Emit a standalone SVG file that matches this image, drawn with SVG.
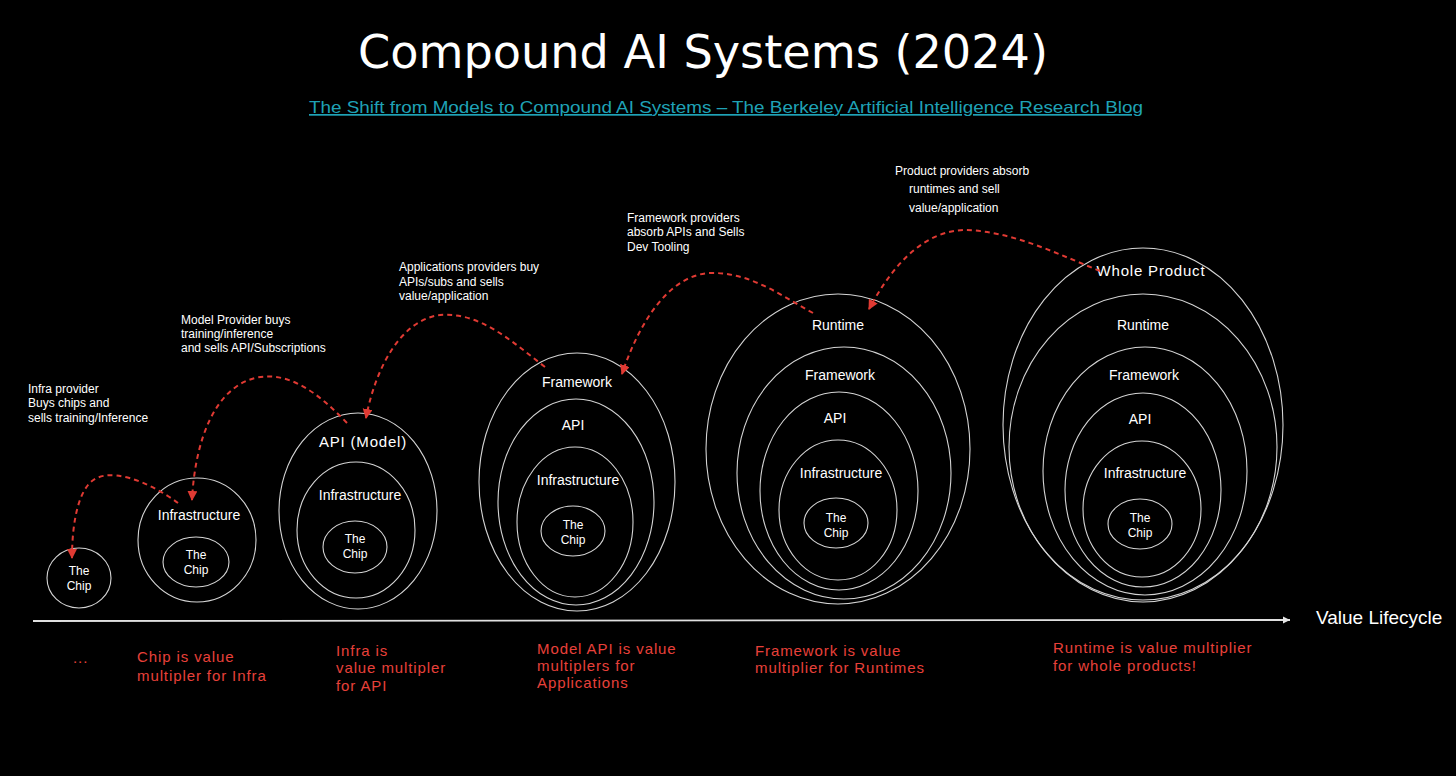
<svg xmlns="http://www.w3.org/2000/svg" width="1456" height="776" viewBox="0 0 1456 776">
<defs>
<style>
.ring{fill:none;stroke:#d4d4d4;stroke-width:1.1}
.lbl{fill:#ffffff;font-family:"Liberation Sans","DejaVu Sans",sans-serif;font-size:14px;text-anchor:middle}
.big{font-size:15px;letter-spacing:0.8px}
.chip{fill:#ffffff;font-family:"Liberation Sans","DejaVu Sans",sans-serif;font-size:12px;text-anchor:middle}
.note{fill:#ffffff;font-family:"Liberation Sans","DejaVu Sans",sans-serif;font-size:12px}
.red{fill:#e8403a;font-family:"Liberation Sans","DejaVu Sans",sans-serif;font-size:15px;letter-spacing:0.9px}
.dash{fill:none;stroke:#e03a33;stroke-width:2;stroke-dasharray:5 4}
</style>
<marker id="rh" markerUnits="userSpaceOnUse" markerWidth="11" markerHeight="11" refX="9" refY="5" orient="auto">
<path d="M0,0 L10,5 L0,10 z" fill="#e03a33"/>
</marker>
<marker id="wh" markerUnits="userSpaceOnUse" markerWidth="8" markerHeight="8" refX="7" refY="3.5" orient="auto">
<path d="M0,0 L7,3.5 L0,7 z" fill="#e6e6e6"/>
</marker>
</defs>
<rect width="1456" height="776" fill="#000000"/>

<g id="title">
<text x="703" y="68" text-anchor="middle" font-family="'DejaVu Sans','Liberation Sans',sans-serif" font-size="46" fill="#ffffff" textLength="690" lengthAdjust="spacingAndGlyphs">Compound AI Systems (2024)</text>
<text x="726" y="113" text-anchor="middle" font-family="'Liberation Sans',Arial,sans-serif" font-size="17" fill="#1fa2b6" text-decoration="underline" textLength="834" lengthAdjust="spacingAndGlyphs">The Shift from Models to Compound AI Systems – The Berkeley Artificial Intelligence Research Blog</text>
</g>

<g id="stage1">
<ellipse class="ring" cx="79" cy="578" rx="32" ry="30"/>
<text class="chip" x="79" y="575">The</text>
<text class="chip" x="79" y="590">Chip</text>
</g>

<g id="stage2">
<ellipse class="ring" cx="197" cy="540" rx="59" ry="62"/>
<ellipse class="ring" cx="196" cy="562" rx="33" ry="25"/>
<text class="lbl" x="199" y="520">Infrastructure</text>
<text class="chip" x="196" y="559">The</text>
<text class="chip" x="196" y="574">Chip</text>
</g>

<g id="stage3">
<ellipse class="ring" cx="358" cy="511" rx="79" ry="98"/>
<ellipse class="ring" cx="356" cy="530" rx="59" ry="68"/>
<ellipse class="ring" cx="355" cy="547" rx="32" ry="26"/>
<text class="lbl big" x="363" y="447">API (Model)</text>
<text class="lbl" x="360" y="500">Infrastructure</text>
<text class="chip" x="355" y="543">The</text>
<text class="chip" x="355" y="558">Chip</text>
</g>

<g id="stage4">
<ellipse class="ring" cx="577" cy="482" rx="98" ry="129"/>
<ellipse class="ring" cx="576" cy="502" rx="78" ry="103"/>
<ellipse class="ring" cx="575" cy="522" rx="58" ry="75"/>
<ellipse class="ring" cx="573" cy="531" rx="32" ry="25"/>
<text class="lbl" x="577" y="387">Framework</text>
<text class="lbl" x="573" y="430">API</text>
<text class="lbl" x="578" y="485">Infrastructure</text>
<text class="chip" x="573" y="529">The</text>
<text class="chip" x="573" y="544">Chip</text>
</g>

<g id="stage5">
<ellipse class="ring" cx="838" cy="449" rx="132" ry="155"/>
<ellipse class="ring" cx="844" cy="473" rx="107" ry="126"/>
<ellipse class="ring" cx="839" cy="491" rx="79" ry="99"/>
<ellipse class="ring" cx="838" cy="510" rx="59" ry="70"/>
<ellipse class="ring" cx="836" cy="523" rx="32" ry="25"/>
<text class="lbl" x="838" y="330">Runtime</text>
<text class="lbl" x="840" y="380">Framework</text>
<text class="lbl" x="835" y="423">API</text>
<text class="lbl" x="841" y="478">Infrastructure</text>
<text class="chip" x="836" y="522">The</text>
<text class="chip" x="836" y="537">Chip</text>
</g>

<g id="stage6">
<ellipse class="ring" cx="1143" cy="425" rx="140" ry="177"/>
<ellipse class="ring" cx="1143" cy="447" rx="134" ry="153"/>
<ellipse class="ring" cx="1145" cy="471" rx="102" ry="124"/>
<ellipse class="ring" cx="1143" cy="490" rx="78" ry="97"/>
<ellipse class="ring" cx="1142" cy="509" rx="59" ry="68"/>
<ellipse class="ring" cx="1140" cy="524" rx="32" ry="25"/>
<text class="lbl big" x="1151" y="276">Whole Product</text>
<text class="lbl" x="1143" y="330">Runtime</text>
<text class="lbl" x="1144" y="380">Framework</text>
<text class="lbl" x="1140" y="424">API</text>
<text class="lbl" x="1145" y="478">Infrastructure</text>
<text class="chip" x="1140" y="522">The</text>
<text class="chip" x="1140" y="537">Chip</text>
</g>

<g id="notes">
<text class="note" x="28" y="393">Infra provider</text>
<text class="note" x="28" y="407">Buys chips and</text>
<text class="note" x="28" y="422">sells training/Inference</text>
<text class="note" x="181" y="324">Model Provider buys</text>
<text class="note" x="181" y="338">training/inference</text>
<text class="note" x="181" y="352">and sells API/Subscriptions</text>
<text class="note" x="399" y="271">Applications providers buy</text>
<text class="note" x="399" y="286">APIs/subs and sells</text>
<text class="note" x="399" y="300">value/application</text>
<text class="note" x="627" y="222">Framework providers</text>
<text class="note" x="627" y="236">absorb APIs and Sells</text>
<text class="note" x="627" y="251">Dev Tooling</text>
<text class="note" x="895" y="175">Product providers absorb</text>
<text class="note" x="909" y="193">runtimes and sell</text>
<text class="note" x="909" y="212">value/application</text>
</g>

<g id="connectors">
<path class="dash" d="M178,503 C150,482 105,463 88,485 C76,500 72,530 72,558" marker-end="url(#rh)"/>
<path class="dash" d="M347,423 C320,395 290,370 255,378 C215,388 195,440 192,500" marker-end="url(#rh)"/>
<path class="dash" d="M545,367 C510,340 480,312 440,315 C400,320 375,370 366,418" marker-end="url(#rh)"/>
<path class="dash" d="M813,313 C780,295 750,272 710,273 C670,275 640,320 622,374" marker-end="url(#rh)"/>
<path class="dash" d="M1100,271 C1060,255 1010,230 963,230 C920,232 890,270 869,309" marker-end="url(#rh)"/>
<path d="M33,621 L1290,620" stroke="#e0e0e0" stroke-width="1.8" fill="none" marker-end="url(#wh)"/>
</g>

<g id="axis-label">
<text x="1316" y="624" font-family="'Liberation Sans','DejaVu Sans',sans-serif" font-size="19" fill="#ffffff">Value Lifecycle</text>
</g>

<g id="captions">
<text class="red" x="73" y="663">...</text>
<text class="red" x="137" y="662">Chip is value</text>
<text class="red" x="137" y="681">multipler for Infra</text>
<text class="red" x="336" y="656">Infra is</text>
<text class="red" x="336" y="673">value multipler</text>
<text class="red" x="336" y="691">for API</text>
<text class="red" x="537" y="654">Model API is value</text>
<text class="red" x="537" y="671">multiplers for</text>
<text class="red" x="537" y="688">Applications</text>
<text class="red" x="755" y="656">Framework is value</text>
<text class="red" x="755" y="673">multiplier for Runtimes</text>
<text class="red" x="1053" y="653">Runtime is value multiplier</text>
<text class="red" x="1053" y="671">for whole products!</text>
</g>
</svg>
